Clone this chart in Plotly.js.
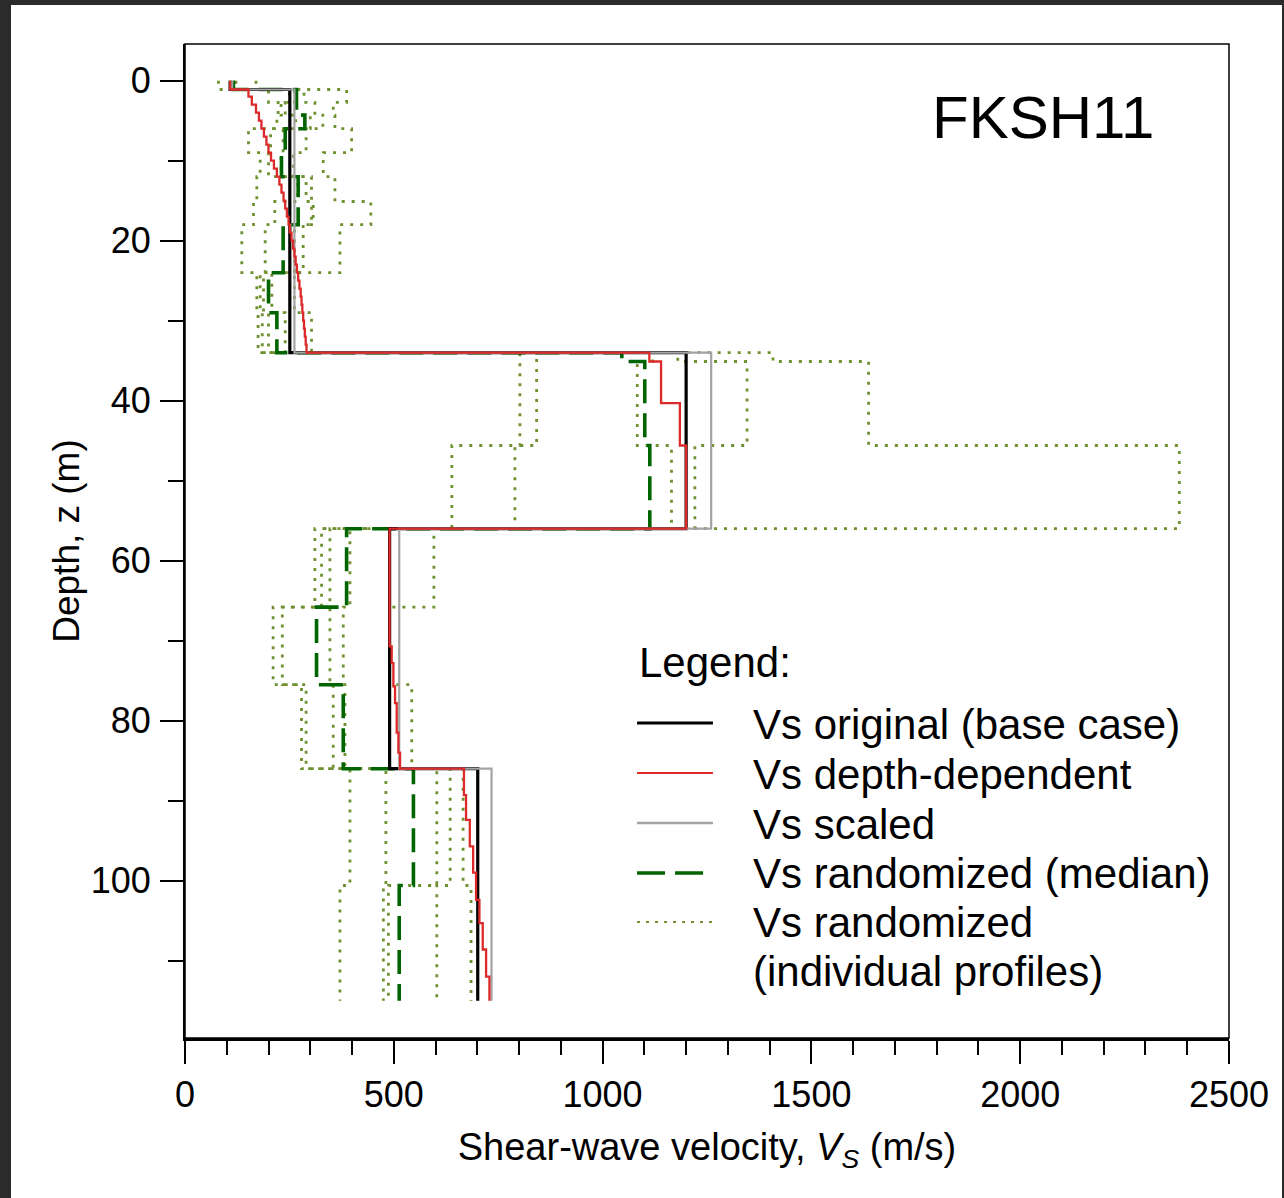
<!DOCTYPE html>
<html>
<head>
<meta charset="utf-8">
<script src="https://cdn.plot.ly/plotly-3.0.1.min.js"></script>
<style>
  html, body { margin: 0; padding: 0; background: #2b2b2b; width: 1284px; height: 1198px; overflow: hidden; }
  #plot { position: absolute; left: 11px; top: 5px; width: 1271px; height: 1193px; background: #fff; }
</style>
</head>
<body>
<div id="plot"></div>
<script>
// ---- Data (depth in m, Vs in m/s) ----
// Base case (original)
const baseDepths = [0, 1.1, 34, 56, 86, 115];
const baseVs = [108, 251, 1200, 490, 701];
// Scaled
const scaledVs = [113, 262, 1260, 513, 734];
// Depth-dependent
const ddDepths = [0, 1.1, 2, 3, 4, 5, 6, 7, 8, 9, 10, 11, 12, 13, 14, 15, 16, 17, 18, 19, 20,
  21, 22, 23, 24, 25, 26, 27, 28, 29, 30, 31, 32, 33, 34, 35.1, 40.3, 45.6, 56,
  70.7, 72.8, 75.7, 77.8, 81.5, 84, 86, 89.3, 92.4, 95.7, 99, 102.4, 105.3, 108.6, 112, 115];
const ddVs = [108, 152, 160, 170, 177, 183, 189, 195, 200, 206, 213, 220, 226, 231, 236, 240,
  244, 248, 251, 255, 259, 262, 265, 268, 271, 274, 277, 279, 281, 283, 285, 287, 289, 291,
  1112, 1140, 1185, 1200,
  490, 495, 499, 503, 507, 511, 515,
  668, 673, 682, 690, 697, 705, 713, 721, 729];
// Randomized median
const medDepths = [0, 1.1, 4.3, 6, 9, 12, 18, 24, 29, 34, 35.1, 45.6, 56, 65.8, 75.5, 86, 100.6, 115];
const medVs = [116, 267, 287, 240, 231, 271, 235, 200, 220, 1046, 1101, 1113, 387, 315, 379, 547, 513];
// Randomized individual profiles
const randDepths = [0, 1.1, 2.7, 4.3, 6, 9, 12, 15.1, 18, 24, 29, 34, 35.1, 45.6, 56, 65.8, 75.5, 86, 100.6, 115];
const rand1 = [80, 200, 223, 220, 152, 180, 172, 164, 136, 172, 175, 802, 802, 639, 311, 211, 279, 395, 371];
const rand2 = [110, 250, 230, 265, 205, 200, 270, 215, 192, 180, 185, 842, 842, 790, 327, 233, 290, 481, 475];
const rand3 = [118, 262, 240, 300, 235, 230, 290, 303, 262, 188, 200, 1120, 1083, 1165, 347, 347, 355, 603, 487];
const rand4 = [122, 285, 311, 330, 290, 260, 303, 307, 283, 208, 240, 1180, 1346, 1221, 395, 379, 383, 635, 603];
const rand5 = [170, 387, 355, 359, 399, 331, 359, 445, 371, 262, 303, 1408, 1637, 2381, 596, 490, 543, 666, 685];

const xTickVals = [0, 500, 1000, 1500, 2000, 2500];
const yTickVals = [0, 20, 40, 60, 80, 100];
const siteName = 'FKSH11';
const legendLabels = ['Vs original (base case)', 'Vs depth-dependent', 'Vs scaled',
  'Vs randomized (median)', 'Vs randomized', '(individual profiles)'];

// ---- helpers ----
function steps(depths, vs) {
  const x = [], y = [];
  for (let i = 0; i < vs.length; i++) {
    x.push(vs[i], vs[i]);
    y.push(depths[i], depths[i + 1]);
  }
  return {x, y};
}

const FONT = 'Liberation Sans, Arial, sans-serif';
const DOT_COLOR = '#6f9130';
const dotStyle = {color: DOT_COLOR, width: 2.8, dash: '3px,7px'};
const traces = [];
[rand1, rand2, rand3, rand4, rand5].forEach((p, i) => {
  const s = steps(randDepths, p);
  traces.push({x: s.x, y: s.y, mode: 'lines', type: 'scatter', name: 'Vs randomized ' + (i + 1),
    line: dotStyle, showlegend: false, hoverinfo: 'skip'});
});
let s = steps(medDepths, medVs);
traces.push({x: s.x, y: s.y, mode: 'lines', name: 'Vs randomized (median)',
  line: {color: '#006400', width: 3.6, dash: '24px,10px'}, showlegend: false});
s = steps(baseDepths, baseVs);
traces.push({x: s.x, y: s.y, mode: 'lines', name: 'Vs original (base case)',
  line: {color: '#000000', width: 3.2}, showlegend: false});
s = steps(baseDepths, scaledVs);
traces.push({x: s.x, y: s.y, mode: 'lines', name: 'Vs scaled',
  line: {color: '#a3a3a3', width: 2.2}, showlegend: false});
s = steps(ddDepths, ddVs);
traces.push({x: s.x, y: s.y, mode: 'lines', name: 'Vs depth-dependent',
  line: {color: '#dc2a2a', width: 2.3}, showlegend: false});

// ---- custom legend (paper coords) ----
const lx0 = 0.4330, lx1 = 0.5057, tx = 0.5421;
const sampleY = [0.3169, 0.2666, 0.2163, 0.1660, 0.1167];
const sampleLines = [
  {color: '#000000', width: 3},
  {color: '#dc2a2a', width: 2},
  {color: '#a3a3a3', width: 2.5},
  {color: '#006400', width: 3.6, dash: '28px,10px'},
  {color: DOT_COLOR, width: 2.2, dash: '3px,6px'}
];
const textY = [0.3149, 0.2646, 0.2143, 0.1650, 0.1167, 0.0664];

const shapes = [
  {type: 'rect', xref: 'paper', yref: 'paper', x0: 0, x1: 1, y0: 0, y1: 1,
   line: {color: '#000', width: 1.5}, layer: 'above'}
];
sampleLines.forEach((ln, i) => shapes.push({type: 'line', xref: 'paper', yref: 'paper',
  x0: lx0, x1: lx1, y0: sampleY[i], y1: sampleY[i], line: ln}));

const annotations = [
  {xref: 'paper', yref: 'paper', x: 0.8218, y: 0.9256, text: siteName, showarrow: false,
   xanchor: 'center', yanchor: 'middle', font: {family: FONT, size: 60, color: '#000'}},
  {xref: 'paper', yref: 'paper', x: lx0, y: 0.3773, text: 'Legend:', showarrow: false,
   xanchor: 'left', yanchor: 'middle', font: {family: FONT, size: 42, color: '#000'}}
];
legendLabels.forEach((t, i) => annotations.push({xref: 'paper', yref: 'paper', x: tx, y: textY[i],
  text: t, showarrow: false, xanchor: 'left', yanchor: 'middle',
  font: {family: FONT, size: 42, color: '#000'}}));

const layout = {
  width: 1271, height: 1193,
  margin: {l: 174, r: 53, t: 39, b: 160, pad: 0},
  paper_bgcolor: '#ffffff', plot_bgcolor: '#ffffff',
  showlegend: false,
  font: {family: FONT, color: '#000'},
  xaxis: {
    range: [0, 2500], tickvals: xTickVals, ticktext: xTickVals.map(String),
    ticks: 'outside', ticklen: 23, tickwidth: 2, tickcolor: '#000',
    minor: {dtick: 100, ticks: 'outside', ticklen: 14, tickwidth: 2, tickcolor: '#000', showgrid: false},
    showline: true, linecolor: '#000', linewidth: 2.5, showgrid: false, zeroline: false,
    tickfont: {family: FONT, size: 36, color: '#000'},
    title: {text: 'Shear-wave velocity, <i>V<sub>S</sub></i> (m/s)', font: {family: FONT, size: 38, color: '#000'}, standoff: 20}
  },
  yaxis: {
    range: [119.66, -4.59], tickvals: yTickVals, ticktext: yTickVals.map(String),
    ticks: 'outside', ticklen: 23, tickwidth: 2, tickcolor: '#000',
    minor: {dtick: 10, ticks: 'outside', ticklen: 15, tickwidth: 2, tickcolor: '#000', showgrid: false},
    showline: true, linecolor: '#000', linewidth: 2, showgrid: false, zeroline: false,
    tickfont: {family: FONT, size: 36, color: '#000'}, ticklabelstandoff: 2,
    title: {text: 'Depth, z (m)', font: {family: FONT, size: 37, color: '#000'}, standoff: 0}
  },
  shapes: shapes,
  annotations: annotations
};

Plotly.newPlot('plot', traces, layout, {staticPlot: true, displayModeBar: false});
</script>
</body>
</html>
